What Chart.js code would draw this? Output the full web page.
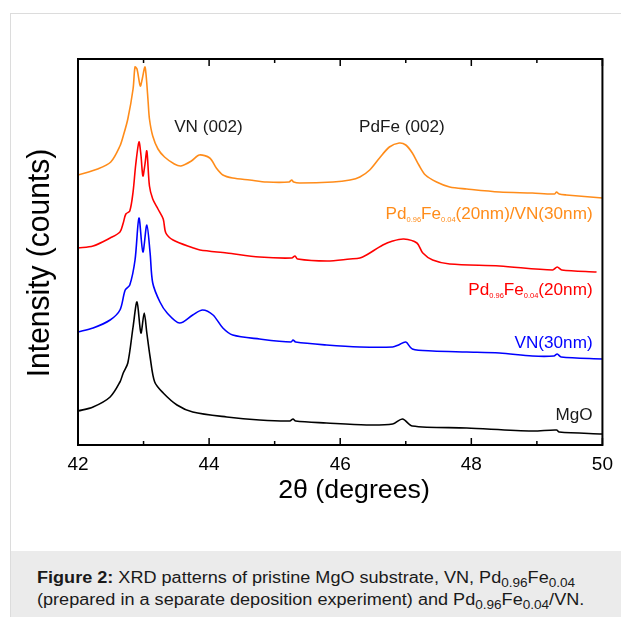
<!DOCTYPE html>
<html>
<head>
<meta charset="utf-8">
<script src="https://cdn.jsdelivr.net/npm/chart.js@4.4.1/dist/chart.umd.min.js"></script>
<style>
  html, body { margin: 0; padding: 0; background: #fff; }
  body { width: 621px; height: 617px; overflow: hidden; position: relative; font-family: "Liberation Sans", Arial, sans-serif; }
  #panel { position: absolute; left: 10px; top: 13px; width: 640px; height: 640px; border: 1px solid #dcdcdc; box-sizing: border-box; }
  #plot { position: absolute; left: 0; top: 0; }
  #caption { position: absolute; left: 11px; top: 551px; width: 620px; height: 70px; background: #ebebeb; }
  #caption p { margin: 0; position: absolute; left: 26px; top: 16px; font-size: 16px; line-height: 22px; color: #1a1a1a; white-space: nowrap; transform: scaleX(1.13); transform-origin: 0 0; }
  #caption sub { font-size: 12px; vertical-align: -4px; line-height: 0; }
</style>
</head>
<body>
<div id="panel"></div>
<canvas id="plot" width="621" height="550"></canvas>
<div id="caption"><p><b>Figure 2:</b> XRD patterns of pristine MgO substrate, VN, Pd<sub>0.96</sub>Fe<sub>0.04</sub><br>(prepared in a separate deposition experiment) and Pd<sub>0.96</sub>Fe<sub>0.04</sub>/VN.</p></div>
<script>
// 2theta (deg) and intensity (arb. offset counts)
const mgoTheta = [42.00, 42.23, 42.49, 42.64, 42.69, 42.76, 42.84, 42.90, 42.96, 43.01, 43.05, 43.10, 43.17, 43.30, 43.51, 43.75, 44.27, 44.77, 45.23, 45.28, 45.32, 45.79, 46.40, 46.80, 46.95, 47.10, 47.93, 48.93, 49.30, 49.34, 50.00];
const mgoCounts = [34, 38, 48, 63, 72, 82, 118, 143, 112, 132, 112, 88, 63, 52, 40, 33, 28, 25, 24, 26, 24, 22, 20, 21, 26, 19, 17, 14, 15, 13, 11];

const vnTheta = [42.00, 42.23, 42.49, 42.64, 42.72, 42.79, 42.87, 42.93, 42.99, 43.05, 43.10, 43.14, 43.25, 43.36, 43.55, 43.75, 43.90, 44.06, 44.21, 44.36, 44.77, 45.25, 45.28, 45.32, 45.79, 46.30, 46.80, 46.89, 47.00, 47.10, 47.41, 47.93, 48.43, 48.93, 49.26, 49.31, 49.37, 50.00];
const vnCounts = [113, 117, 125, 135, 155, 160, 185, 227, 193, 220, 192, 162, 143, 132, 122, 130, 135, 130, 117, 110, 106, 103, 105, 103, 100, 98, 98, 100, 103, 96, 94, 93, 92, 89, 89, 91, 88, 86];

const pdfeTheta = [42.00, 42.23, 42.49, 42.64, 42.69, 42.73, 42.79, 42.84, 42.88, 42.93, 42.96, 42.99, 43.02, 43.05, 43.09, 43.14, 43.22, 43.30, 43.34, 43.45, 43.76, 43.86, 44.27, 44.77, 45.26, 45.31, 45.35, 45.80, 46.15, 46.30, 46.40, 46.65, 46.80, 46.97, 47.17, 47.26, 47.41, 47.67, 48.43, 49.24, 49.31, 49.38, 49.91];
const pdfeCounts = [197, 199, 207, 213, 222, 231, 234, 253, 280, 303, 290, 269, 280, 294, 259, 246, 236, 226, 212, 205, 197, 195, 192, 188, 187, 189, 186, 184, 186, 187, 190, 200, 204, 206, 202, 192, 185, 181, 179, 175, 178, 175, 173];

const bilayerTheta = [42.00, 42.30, 42.50, 42.64, 42.69, 42.76, 42.84, 42.87, 42.90, 42.95, 42.98, 43.02, 43.04, 43.07, 43.09, 43.14, 43.22, 43.32, 43.47, 43.57, 43.73, 43.85, 44.01, 44.11, 44.21, 44.36, 44.62, 44.88, 45.22, 45.26, 45.29, 45.38, 45.89, 46.15, 46.30, 46.45, 46.60, 46.75, 46.90, 47.00, 47.10, 47.20, 47.30, 47.47, 47.67, 47.93, 48.43, 48.93, 49.27, 49.30, 49.34, 49.45, 50.00];
const bilayerCounts = [270, 276, 283, 299, 309, 326, 356, 378, 376, 359, 366, 378, 369, 343, 326, 309, 296, 288, 281, 279, 284, 290, 287, 277, 270, 267, 265, 263, 263, 265, 263, 262, 263, 265, 268, 275, 287, 298, 302, 300, 292, 280, 270, 263, 258, 256, 253, 252, 251, 253, 251, 250, 247];

const seriesNames = ['MgO', 'VN(30nm)', 'Pd0.96Fe0.04(20nm)', 'Pd0.96Fe0.04(20nm)/VN(30nm)'];
const peakNames = ['VN (002)', 'PdFe (002)'];
const xTicks = [42, 44, 46, 48, 50];

const STRETCH = 1.07;
const FONT = '"Liberation Sans", Arial, sans-serif';
Chart.defaults.font.family = FONT;

const series = [
  { name: seriesNames[0], theta: mgoTheta, counts: mgoCounts, color: '#000000', labelAt: [49.85, 31] },
  { name: seriesNames[1], theta: vnTheta, counts: vnCounts, color: '#0000ff', labelAt: [49.85, 103] },
  { name: seriesNames[2], theta: pdfeTheta, counts: pdfeCounts, color: '#ff0000', labelAt: [49.85, 156] },
  { name: seriesNames[3], theta: bilayerTheta, counts: bilayerCounts, color: '#ff8c1a', labelAt: [49.85, 232] },
];
const peakAt = [[43.99, 317], [46.94, 317]];

const drawText = (ctx, text, x, y, size, color, align, rot) => {
  ctx.save();
  ctx.translate(x, y);
  ctx.scale(STRETCH, 1);
  if (rot) ctx.rotate(rot);
  ctx.font = `${size}px ${FONT}`;
  ctx.fillStyle = color;
  ctx.textAlign = align;
  ctx.textBaseline = 'middle';
  ctx.fillText(text, 0, 0);
  ctx.restore();
};

// label with the 0.xx parts set as subscripts, right aligned at x
const drawSubLabel = (ctx, text, x, y, color) => {
  const parts = text.split(/(0\.\d\d)/).filter(Boolean);
  const fontFor = (p) => (/^0\.\d\d$/.test(p) ? `7px ${FONT}` : `16px ${FONT}`);
  ctx.save();
  let total = 0;
  parts.forEach((p) => { ctx.font = fontFor(p); total += ctx.measureText(p).width; });
  ctx.translate(x, y);
  ctx.scale(STRETCH, 1);
  let cx = -total;
  ctx.fillStyle = color;
  ctx.textAlign = 'left';
  ctx.textBaseline = 'alphabetic';
  parts.forEach((p) => {
    const sub = /^0\.\d\d$/.test(p);
    ctx.font = fontFor(p);
    ctx.fillText(p, cx, sub ? 9 : 6);
    cx += ctx.measureText(p).width;
  });
  ctx.restore();
};

const frame = {
  id: 'frame',
  afterDatasetsDraw(chart) {
    const { ctx, chartArea: a, scales: { x, y } } = chart;
    ctx.save();
    ctx.strokeStyle = '#000';
    ctx.lineWidth = 2;
    ctx.strokeRect(a.left, a.top, a.right - a.left, a.bottom - a.top);
    ctx.lineWidth = 1.5;
    for (let t = 42; t <= 50; t++) {
      const px = x.getPixelForValue(t);
      const len = t % 2 === 0 ? 7 : 4;
      ctx.beginPath();
      ctx.moveTo(px, a.bottom);
      ctx.lineTo(px, a.bottom - len);
      ctx.moveTo(px, a.top);
      ctx.lineTo(px, a.top + len);
      ctx.stroke();
    }
    ctx.restore();

    peakNames.forEach((n, i) => {
      drawText(ctx, n, x.getPixelForValue(peakAt[i][0]), y.getPixelForValue(peakAt[i][1]), 16, '#1a1a1a', 'center');
    });
    series.forEach((s) => {
      drawSubLabel(ctx, s.name, x.getPixelForValue(s.labelAt[0]), y.getPixelForValue(s.labelAt[1]), s.color === '#000000' ? '#1a1a1a' : s.color);
    });

    drawText(ctx, 'Intensity (counts)', 40, 263, 30, '#000', 'center', -Math.PI / 2);
    drawText(ctx, '2θ (degrees)', 354, 491, 25, '#000', 'center');
  },
};

new Chart(document.getElementById('plot'), {
  type: 'line',
  data: {
    datasets: series.map(({ name, theta, counts, color }) => ({
      label: name,
      data: theta.map((t, i) => ({ x: t, y: counts[i] })),
      borderColor: color,
      borderWidth: 1.6,
      pointRadius: 0,
      fill: false,
      tension: 0.3,
    })),
  },
  options: {
    responsive: false,
    animation: false,
    devicePixelRatio: 1,
    layout: { padding: { left: 78, right: 18, top: 59, bottom: 65 } },
    plugins: { legend: { display: false }, tooltip: { enabled: false } },
    scales: {
      x: {
        type: 'linear',
        min: 42,
        max: 50,
        afterBuildTicks: (scale) => { scale.ticks = xTicks.map((v) => ({ value: v })); },
        afterFit: (scale) => { scale.height = 40; },
        grid: { display: false, drawTicks: false },
        border: { display: false },
        ticks: { color: '#000', font: { size: 19 }, padding: 8, autoSkip: false, maxRotation: 0 },
      },
      y: { type: 'linear', min: 0, max: 386, display: false },
    },
  },
  plugins: [frame],
});
</script>
</body>
</html>
